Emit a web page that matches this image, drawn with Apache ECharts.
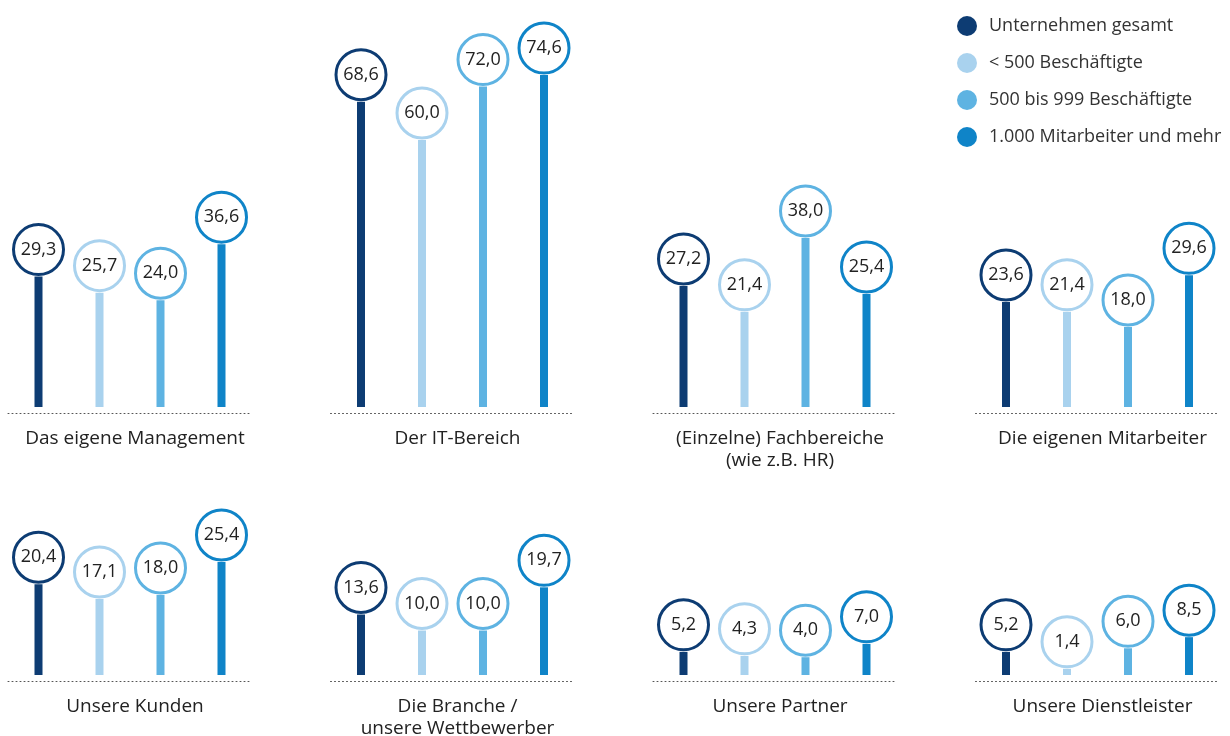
<!DOCTYPE html>
<html>
<head>
<meta charset="utf-8">
<script src="https://cdn.jsdelivr.net/npm/echarts@6/dist/echarts.min.js"></script>
<style>
  html, body { margin: 0; padding: 0; background: #fff; }
  #chart { width: 1230px; height: 736px; }
</style>
</head>
<body>
<div id="chart"></div>
<script>
// Who drives digitalisation – share of companies (%), by company size
const panels = [
  'Das eigene Management',
  'Der IT-Bereich',
  '(Einzelne) Fachbereiche\n(wie z.B. HR)',
  'Die eigenen Mitarbeiter',
  'Unsere Kunden',
  'Die Branche /\nunsere Wettbewerber',
  'Unsere Partner',
  'Unsere Dienstleister'
];
const groups = [
  'Unternehmen gesamt',
  '< 500 Beschäftigte',
  '500 bis 999 Beschäftigte',
  '1.000 Mitarbeiter und mehr'
];
const gesamt      = [29.3, 68.6, 27.2, 23.6, 20.4, 13.6, 5.2, 5.2];
const unter500    = [25.7, 60.0, 21.4, 21.4, 17.1, 10.0, 4.3, 1.4];
const bis999      = [24.0, 72.0, 38.0, 18.0, 18.0, 10.0, 4.0, 6.0];
const ab1000      = [36.6, 74.6, 25.4, 29.6, 25.4, 19.7, 7.0, 8.5];
const groupValues = [gesamt, unter500, bis999, ab1000];
const colors = ['#0d3c73', '#a9d2ee', '#5eb3e2', '#0f84c8'];

const FONT = '"Open Sans", sans-serif';
const fmt = v => v.toFixed(1).replace('.', ',');

const chart = echarts.init(document.getElementById('chart'));

const panelLeft = i => 8 + 322.5 * (i % 4);
const panelBottom = i => (i < 4 ? 736 - 407 : 736 - 675);
const PANEL_W = 244;
const PANEL_H = 356;

const grids = [], xAxes = [], yAxes = [], series = [], titles = [];
panels.forEach((name, p) => {
  grids.push({ left: panelLeft(p), width: PANEL_W, bottom: panelBottom(p), height: PANEL_H });
  xAxes.push({
    gridIndex: p, type: 'category', data: groups,
    offset: 6,
    axisLine: { show: true, onZero: false, lineStyle: { color: '#555', width: 1, type: [1, 3] } },
    axisTick: { show: false }, axisLabel: { show: false }
  });
  yAxes.push({ gridIndex: p, type: 'value', min: 0, max: 80, show: false });
  titles.push({
    text: name,
    left: panelLeft(p) + PANEL_W / 2,
    top: p < 4 ? 423 : 691,
    textAlign: 'center',
    textStyle: { fontFamily: FONT, fontSize: 19, fontWeight: 'normal', color: '#222', lineHeight: 22 }
  });
  groups.forEach((g, k) => {
    const data = groups.map((_, j) => (j === k ? groupValues[k][p] : '-'));
    series.push({
      name: g, type: 'bar', xAxisIndex: p, yAxisIndex: p,
      data, barWidth: 8, barGap: '-100%',
      itemStyle: { color: colors[k] }, silent: true, animation: false
    });
    series.push({
      name: g, type: 'scatter', xAxisIndex: p, yAxisIndex: p,
      data, symbol: 'circle', symbolSize: 50, symbolOffset: [0, -27],
      itemStyle: { color: '#fff', borderColor: colors[k], borderWidth: 3, opacity: 1 },
      label: {
        show: true, position: 'inside',
        formatter: d => fmt(d.value),
        fontFamily: FONT, fontSize: 18, color: '#222'
      },
      z: 3, silent: true, animation: false
    });
  });
});

chart.setOption({
  animation: false,
  title: titles,
  legend: {
    data: groups.map((g, k) => ({ name: g, itemStyle: { color: colors[k], borderWidth: 0 } })),
    orient: 'vertical', left: 952, top: 11,
    icon: 'circle', itemWidth: 34, itemHeight: 20, itemGap: 17,
    textStyle: { fontFamily: FONT, fontSize: 18, color: '#333' },
    selectedMode: false
  },
  grid: grids,
  xAxis: xAxes,
  yAxis: yAxes,
  series
});
</script>
</body>
</html>
